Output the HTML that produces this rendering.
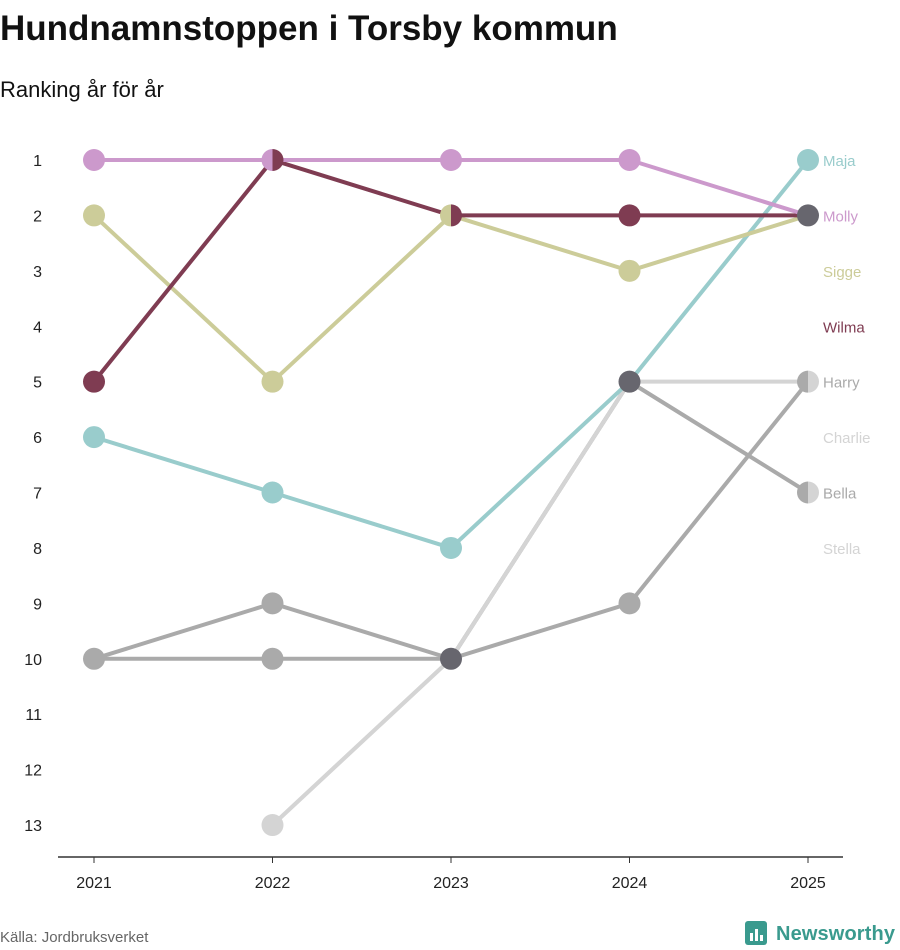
<!DOCTYPE html>
<html><head><meta charset="utf-8"><style>
body{margin:0;background:#fff;font-family:"Liberation Sans","DejaVu Sans",sans-serif;}
svg{display:block}
</style></head><body>
<svg width="900" height="950">
<text x="0" y="40" font-size="35" font-weight="bold" fill="#111">Hundnamnstoppen i Torsby kommun</text>
<text x="0" y="97" font-size="22" fill="#111">Ranking år för år</text>
<g id="plot"></g>
<text x="0" y="942" font-size="15" fill="#666">Källa: Jordbruksverket</text>
<g>
<rect x="745" y="921" width="22" height="24" rx="3" fill="#3a9a8e"/>
<rect x="750" y="933" width="3" height="8" fill="#fff"/><rect x="755" y="929" width="3" height="12" fill="#fff"/><rect x="760" y="935" width="3" height="6" fill="#fff"/>
<text x="776" y="940" font-size="20" font-weight="bold" fill="#3a9a8e" textLength="119">Newsworthy</text>
</g>
</svg>
<script>
const years=[2021,2022,2023,2024,2025];
const names=["Maja","Molly","Sigge","Wilma","Harry","Charlie","Bella","Stella"];
const colors=["#99cccc","#cc99cc","#cccc99","#7f3c52","#aaaaaa","#d4d4d4","#aaaaaa","#d4d4d4"];
const ranksMaja=[6,7,8,5,1];
const ranksMolly=[1,1,1,1,2];
const ranksSigge=[2,5,2,3,2];
const ranksWilma=[5,1,2,2,2];
const ranksHarry=[10,10,10,9,5];
const ranksCharlie=[null,13,10,5,5];
const ranksBella=[10,9,10,5,7];
const ranksStella=[null,13,10,5,7];
const labelRanks=[1,2,3,4,5,6,7,8];
const yTicks=[1,2,3,4,5,6,7,8,9,10,11,12,13];
const series=[ranksMaja,ranksMolly,ranksSigge,ranksWilma,ranksHarry,ranksCharlie,ranksBella,ranksStella];
const NS="http://www.w3.org/2000/svg";
const g=document.getElementById('plot');
const x=i=>94+i*178.5;
const y=r=>160+(r-1)*55.42;
function el(t,a){const e=document.createElementNS(NS,t);for(const k in a)e.setAttribute(k,a[k]);g.appendChild(e);return e;}
yTicks.forEach(r=>{const t=el('text',{x:42,y:y(r)+6,'font-size':16,fill:'#222','text-anchor':'end'});t.textContent=r;

});
const ax=el('line',{x1:58,x2:843,y1:857,y2:857,stroke:'#333','stroke-width':1.5});


years.forEach((yr,i)=>{el('line',{x1:x(i),x2:x(i),y1:857,y2:863,stroke:'#333'});
const t=el('text',{x:x(i),y:888,'font-size':16,fill:'#222','text-anchor':'middle'});t.textContent=yr;

});
const order=[7,6,5,4,0,2,3,1];
order.forEach(s=>{const d=series[s];let p='';d.forEach((r,i)=>{if(r==null)return;p+=(p?'L':'M')+x(i)+','+y(r);});
const l=el('path',{d:p,fill:'none',stroke:colors[s],'stroke-width':4});

});
const groups={};
series.forEach((d,s)=>d.forEach((r,i)=>{if(r==null)return;const k=i+'_'+r;(groups[k]=groups[k]||[]).push(s);}));
for(const k in groups){const [i,r]=k.split('_').map(Number);const ss=groups[k];const cx=x(i),cy=y(r),R=11;
const cols=[...new Set(ss.map(s=>colors[s]))];
if(ss.length>2){const c=el('circle',{cx,cy,r:R,fill:'#67666e'});

}
else if(cols.length==2){
const a=el('path',{d:`M${cx},${cy-R}A${R},${R} 0 0 0 ${cx},${cy+R}Z`,fill:cols[0]});


const b=el('path',{d:`M${cx},${cy-R}A${R},${R} 0 0 1 ${cx},${cy+R}Z`,fill:cols[1]});

}
else{const c=el('circle',{cx,cy,r:R,fill:cols[0]});

}}
names.forEach((n,s)=>{const t=el('text',{x:823,y:y(labelRanks[s])+6,'font-size':15,fill:colors[s]});t.textContent=n;

});
</script>
</body></html>
